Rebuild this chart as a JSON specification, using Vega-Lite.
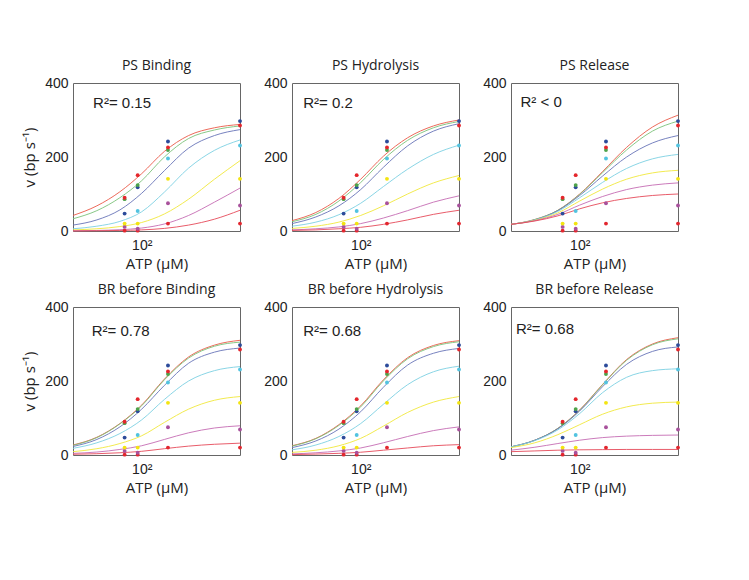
{
"$schema": "https://vega.github.io/schema/vega-lite/v6.json",
"padding": {"left": 22, "top": 58, "right": 5, "bottom": 5},
"background": "white",
"bounds": "flush",
"columns": 3,
"spacing": {"row": 76, "column": 52},
"datasets": {
"curves": [
{"p":1,"s":"r1","x":20,"y":42},{"p":1,"s":"r1","x":35,"y":68},{"p":1,"s":"r1","x":60,"y":106},{"p":1,"s":"r1","x":100,"y":155},{"p":1,"s":"r1","x":170,"y":215},{"p":1,"s":"r1","x":300,"y":258},{"p":1,"s":"r1","x":550,"y":279},{"p":1,"s":"r1","x":1000,"y":288},
{"p":1,"s":"g","x":20,"y":33},{"p":1,"s":"g","x":35,"y":55},{"p":1,"s":"g","x":60,"y":90},{"p":1,"s":"g","x":100,"y":136},{"p":1,"s":"g","x":170,"y":200},{"p":1,"s":"g","x":300,"y":250},{"p":1,"s":"g","x":550,"y":273},{"p":1,"s":"g","x":1000,"y":284},
{"p":1,"s":"b","x":20,"y":16},{"p":1,"s":"b","x":35,"y":30},{"p":1,"s":"b","x":60,"y":57},{"p":1,"s":"b","x":100,"y":102},{"p":1,"s":"b","x":170,"y":163},{"p":1,"s":"b","x":300,"y":224},{"p":1,"s":"b","x":550,"y":258},{"p":1,"s":"b","x":1000,"y":274},
{"p":1,"s":"c","x":20,"y":6},{"p":1,"s":"c","x":35,"y":13},{"p":1,"s":"c","x":60,"y":26},{"p":1,"s":"c","x":100,"y":52},{"p":1,"s":"c","x":170,"y":105},{"p":1,"s":"c","x":300,"y":170},{"p":1,"s":"c","x":550,"y":218},{"p":1,"s":"c","x":1000,"y":246},
{"p":1,"s":"y","x":20,"y":3},{"p":1,"s":"y","x":35,"y":6},{"p":1,"s":"y","x":60,"y":12},{"p":1,"s":"y","x":100,"y":23},{"p":1,"s":"y","x":170,"y":46},{"p":1,"s":"y","x":300,"y":86},{"p":1,"s":"y","x":550,"y":140},{"p":1,"s":"y","x":1000,"y":190},
{"p":1,"s":"m","x":20,"y":0.5},{"p":1,"s":"m","x":35,"y":1.5},{"p":1,"s":"m","x":60,"y":3.5},{"p":1,"s":"m","x":100,"y":8},{"p":1,"s":"m","x":170,"y":19},{"p":1,"s":"m","x":300,"y":42},{"p":1,"s":"m","x":550,"y":78},{"p":1,"s":"m","x":1000,"y":116},
{"p":1,"s":"r2","x":20,"y":0.2},{"p":1,"s":"r2","x":35,"y":0.6},{"p":1,"s":"r2","x":60,"y":1.5},{"p":1,"s":"r2","x":100,"y":3},{"p":1,"s":"r2","x":170,"y":7},{"p":1,"s":"r2","x":300,"y":16},{"p":1,"s":"r2","x":550,"y":32},{"p":1,"s":"r2","x":1000,"y":56},

{"p":2,"s":"r1","x":20,"y":28},{"p":2,"s":"r1","x":35,"y":50},{"p":2,"s":"r1","x":60,"y":88},{"p":2,"s":"r1","x":100,"y":140},{"p":2,"s":"r1","x":170,"y":202},{"p":2,"s":"r1","x":300,"y":252},{"p":2,"s":"r1","x":550,"y":284},{"p":2,"s":"r1","x":1000,"y":300},
{"p":2,"s":"g","x":20,"y":25},{"p":2,"s":"g","x":35,"y":45},{"p":2,"s":"g","x":60,"y":81},{"p":2,"s":"g","x":100,"y":131},{"p":2,"s":"g","x":170,"y":193},{"p":2,"s":"g","x":300,"y":245},{"p":2,"s":"g","x":550,"y":279},{"p":2,"s":"g","x":1000,"y":296},
{"p":2,"s":"b","x":20,"y":20},{"p":2,"s":"b","x":35,"y":38},{"p":2,"s":"b","x":60,"y":68},{"p":2,"s":"b","x":100,"y":112},{"p":2,"s":"b","x":170,"y":172},{"p":2,"s":"b","x":300,"y":230},{"p":2,"s":"b","x":550,"y":270},{"p":2,"s":"b","x":1000,"y":290},
{"p":2,"s":"c","x":20,"y":13},{"p":2,"s":"c","x":35,"y":24},{"p":2,"s":"c","x":60,"y":44},{"p":2,"s":"c","x":100,"y":75},{"p":2,"s":"c","x":170,"y":120},{"p":2,"s":"c","x":300,"y":167},{"p":2,"s":"c","x":550,"y":207},{"p":2,"s":"c","x":1000,"y":232},
{"p":2,"s":"y","x":20,"y":7},{"p":2,"s":"y","x":35,"y":13},{"p":2,"s":"y","x":60,"y":24},{"p":2,"s":"y","x":100,"y":42},{"p":2,"s":"y","x":170,"y":68},{"p":2,"s":"y","x":300,"y":100},{"p":2,"s":"y","x":550,"y":130},{"p":2,"s":"y","x":1000,"y":150},
{"p":2,"s":"m","x":20,"y":3},{"p":2,"s":"m","x":35,"y":6},{"p":2,"s":"m","x":60,"y":11},{"p":2,"s":"m","x":100,"y":20},{"p":2,"s":"m","x":170,"y":35},{"p":2,"s":"m","x":300,"y":55},{"p":2,"s":"m","x":550,"y":78},{"p":2,"s":"m","x":1000,"y":95},
{"p":2,"s":"r2","x":20,"y":1.5},{"p":2,"s":"r2","x":35,"y":3},{"p":2,"s":"r2","x":60,"y":6},{"p":2,"s":"r2","x":100,"y":10},{"p":2,"s":"r2","x":170,"y":18},{"p":2,"s":"r2","x":300,"y":30},{"p":2,"s":"r2","x":550,"y":45},{"p":2,"s":"r2","x":1000,"y":56},

{"p":3,"s":"r1","x":20,"y":18},{"p":3,"s":"r1","x":35,"y":31},{"p":3,"s":"r1","x":60,"y":56},{"p":3,"s":"r1","x":100,"y":100},{"p":3,"s":"r1","x":170,"y":160},{"p":3,"s":"r1","x":300,"y":226},{"p":3,"s":"r1","x":550,"y":281},{"p":3,"s":"r1","x":1000,"y":313},
{"p":3,"s":"g","x":20,"y":18},{"p":3,"s":"g","x":35,"y":31},{"p":3,"s":"g","x":60,"y":56},{"p":3,"s":"g","x":100,"y":99},{"p":3,"s":"g","x":170,"y":157},{"p":3,"s":"g","x":300,"y":219},{"p":3,"s":"g","x":550,"y":270},{"p":3,"s":"g","x":1000,"y":297},
{"p":3,"s":"b","x":20,"y":18},{"p":3,"s":"b","x":35,"y":30},{"p":3,"s":"b","x":60,"y":55},{"p":3,"s":"b","x":100,"y":96},{"p":3,"s":"b","x":170,"y":148},{"p":3,"s":"b","x":300,"y":200},{"p":3,"s":"b","x":550,"y":238},{"p":3,"s":"b","x":1000,"y":258},
{"p":3,"s":"c","x":20,"y":18},{"p":3,"s":"c","x":35,"y":30},{"p":3,"s":"c","x":60,"y":53},{"p":3,"s":"c","x":100,"y":90},{"p":3,"s":"c","x":170,"y":131},{"p":3,"s":"c","x":300,"y":169},{"p":3,"s":"c","x":550,"y":195},{"p":3,"s":"c","x":1000,"y":207},
{"p":3,"s":"y","x":20,"y":18},{"p":3,"s":"y","x":35,"y":29},{"p":3,"s":"y","x":60,"y":49},{"p":3,"s":"y","x":100,"y":81},{"p":3,"s":"y","x":170,"y":113},{"p":3,"s":"y","x":300,"y":140},{"p":3,"s":"y","x":550,"y":157},{"p":3,"s":"y","x":1000,"y":164},
{"p":3,"s":"m","x":20,"y":18},{"p":3,"s":"m","x":35,"y":28},{"p":3,"s":"m","x":60,"y":45},{"p":3,"s":"m","x":100,"y":70},{"p":3,"s":"m","x":170,"y":93},{"p":3,"s":"m","x":300,"y":112},{"p":3,"s":"m","x":550,"y":124},{"p":3,"s":"m","x":1000,"y":130},
{"p":3,"s":"r2","x":20,"y":18},{"p":3,"s":"r2","x":35,"y":27},{"p":3,"s":"r2","x":60,"y":41},{"p":3,"s":"r2","x":100,"y":60},{"p":3,"s":"r2","x":170,"y":76},{"p":3,"s":"r2","x":300,"y":88},{"p":3,"s":"r2","x":550,"y":96},{"p":3,"s":"r2","x":1000,"y":100},

{"p":4,"s":"r1","x":20,"y":27},{"p":4,"s":"r1","x":35,"y":48},{"p":4,"s":"r1","x":60,"y":85},{"p":4,"s":"r1","x":100,"y":135},{"p":4,"s":"r1","x":170,"y":205},{"p":4,"s":"r1","x":300,"y":265},{"p":4,"s":"r1","x":550,"y":297},{"p":4,"s":"r1","x":1000,"y":310},
{"p":4,"s":"g","x":20,"y":26},{"p":4,"s":"g","x":35,"y":47},{"p":4,"s":"g","x":60,"y":84},{"p":4,"s":"g","x":100,"y":133},{"p":4,"s":"g","x":170,"y":203},{"p":4,"s":"g","x":300,"y":262},{"p":4,"s":"g","x":550,"y":294},{"p":4,"s":"g","x":1000,"y":305},
{"p":4,"s":"b","x":20,"y":23},{"p":4,"s":"b","x":35,"y":42},{"p":4,"s":"b","x":60,"y":76},{"p":4,"s":"b","x":100,"y":124},{"p":4,"s":"b","x":170,"y":188},{"p":4,"s":"b","x":300,"y":248},{"p":4,"s":"b","x":550,"y":278},{"p":4,"s":"b","x":1000,"y":289},
{"p":4,"s":"c","x":20,"y":18},{"p":4,"s":"c","x":35,"y":33},{"p":4,"s":"c","x":60,"y":58},{"p":4,"s":"c","x":100,"y":95},{"p":4,"s":"c","x":170,"y":150},{"p":4,"s":"c","x":300,"y":200},{"p":4,"s":"c","x":550,"y":228},{"p":4,"s":"c","x":1000,"y":239},
{"p":4,"s":"y","x":20,"y":9},{"p":4,"s":"y","x":35,"y":17},{"p":4,"s":"y","x":60,"y":31},{"p":4,"s":"y","x":100,"y":52},{"p":4,"s":"y","x":170,"y":88},{"p":4,"s":"y","x":300,"y":124},{"p":4,"s":"y","x":550,"y":148},{"p":4,"s":"y","x":1000,"y":158},
{"p":4,"s":"m","x":20,"y":4.5},{"p":4,"s":"m","x":35,"y":8},{"p":4,"s":"m","x":60,"y":15},{"p":4,"s":"m","x":100,"y":25},{"p":4,"s":"m","x":170,"y":42},{"p":4,"s":"m","x":300,"y":60},{"p":4,"s":"m","x":550,"y":73},{"p":4,"s":"m","x":1000,"y":79},
{"p":4,"s":"r2","x":20,"y":2},{"p":4,"s":"r2","x":35,"y":3.5},{"p":4,"s":"r2","x":60,"y":6},{"p":4,"s":"r2","x":100,"y":10},{"p":4,"s":"r2","x":170,"y":17},{"p":4,"s":"r2","x":300,"y":24},{"p":4,"s":"r2","x":550,"y":29},{"p":4,"s":"r2","x":1000,"y":32},

{"p":5,"s":"r1","x":20,"y":25},{"p":5,"s":"r1","x":35,"y":45},{"p":5,"s":"r1","x":60,"y":82},{"p":5,"s":"r1","x":100,"y":133},{"p":5,"s":"r1","x":170,"y":203},{"p":5,"s":"r1","x":300,"y":263},{"p":5,"s":"r1","x":550,"y":296},{"p":5,"s":"r1","x":1000,"y":309},
{"p":5,"s":"g","x":20,"y":24},{"p":5,"s":"g","x":35,"y":44},{"p":5,"s":"g","x":60,"y":80},{"p":5,"s":"g","x":100,"y":130},{"p":5,"s":"g","x":170,"y":200},{"p":5,"s":"g","x":300,"y":260},{"p":5,"s":"g","x":550,"y":293},{"p":5,"s":"g","x":1000,"y":306},
{"p":5,"s":"b","x":20,"y":20},{"p":5,"s":"b","x":35,"y":38},{"p":5,"s":"b","x":60,"y":70},{"p":5,"s":"b","x":100,"y":117},{"p":5,"s":"b","x":170,"y":183},{"p":5,"s":"b","x":300,"y":243},{"p":5,"s":"b","x":550,"y":275},{"p":5,"s":"b","x":1000,"y":288},
{"p":5,"s":"c","x":20,"y":14},{"p":5,"s":"c","x":35,"y":27},{"p":5,"s":"c","x":60,"y":50},{"p":5,"s":"c","x":100,"y":85},{"p":5,"s":"c","x":170,"y":137},{"p":5,"s":"c","x":300,"y":190},{"p":5,"s":"c","x":550,"y":225},{"p":5,"s":"c","x":1000,"y":240},
{"p":5,"s":"y","x":20,"y":7},{"p":5,"s":"y","x":35,"y":13},{"p":5,"s":"y","x":60,"y":25},{"p":5,"s":"y","x":100,"y":45},{"p":5,"s":"y","x":170,"y":78},{"p":5,"s":"y","x":300,"y":115},{"p":5,"s":"y","x":550,"y":143},{"p":5,"s":"y","x":1000,"y":158},
{"p":5,"s":"m","x":20,"y":3},{"p":5,"s":"m","x":35,"y":6},{"p":5,"s":"m","x":60,"y":11},{"p":5,"s":"m","x":100,"y":19},{"p":5,"s":"m","x":170,"y":33},{"p":5,"s":"m","x":300,"y":50},{"p":5,"s":"m","x":550,"y":66},{"p":5,"s":"m","x":1000,"y":76},
{"p":5,"s":"r2","x":20,"y":1},{"p":5,"s":"r2","x":35,"y":2.5},{"p":5,"s":"r2","x":60,"y":4.5},{"p":5,"s":"r2","x":100,"y":7.5},{"p":5,"s":"r2","x":170,"y":13},{"p":5,"s":"r2","x":300,"y":19},{"p":5,"s":"r2","x":550,"y":25},{"p":5,"s":"r2","x":1000,"y":28},

{"p":6,"s":"r1","x":20,"y":22},{"p":6,"s":"r1","x":35,"y":40},{"p":6,"s":"r1","x":60,"y":72},{"p":6,"s":"r1","x":100,"y":122},{"p":6,"s":"r1","x":170,"y":190},{"p":6,"s":"r1","x":300,"y":258},{"p":6,"s":"r1","x":550,"y":300},{"p":6,"s":"r1","x":1000,"y":317},
{"p":6,"s":"g","x":20,"y":22},{"p":6,"s":"g","x":35,"y":40},{"p":6,"s":"g","x":60,"y":72},{"p":6,"s":"g","x":100,"y":121},{"p":6,"s":"g","x":170,"y":189},{"p":6,"s":"g","x":300,"y":256},{"p":6,"s":"g","x":550,"y":298},{"p":6,"s":"g","x":1000,"y":314},
{"p":6,"s":"b","x":20,"y":22},{"p":6,"s":"b","x":35,"y":40},{"p":6,"s":"b","x":60,"y":71},{"p":6,"s":"b","x":100,"y":119},{"p":6,"s":"b","x":170,"y":184},{"p":6,"s":"b","x":300,"y":245},{"p":6,"s":"b","x":550,"y":280},{"p":6,"s":"b","x":1000,"y":292},
{"p":6,"s":"c","x":20,"y":22},{"p":6,"s":"c","x":35,"y":39},{"p":6,"s":"c","x":60,"y":68},{"p":6,"s":"c","x":100,"y":112},{"p":6,"s":"c","x":170,"y":168},{"p":6,"s":"c","x":300,"y":210},{"p":6,"s":"c","x":550,"y":228},{"p":6,"s":"c","x":1000,"y":233},
{"p":6,"s":"y","x":20,"y":20},{"p":6,"s":"y","x":35,"y":33},{"p":6,"s":"y","x":60,"y":55},{"p":6,"s":"y","x":100,"y":82},{"p":6,"s":"y","x":170,"y":110},{"p":6,"s":"y","x":300,"y":130},{"p":6,"s":"y","x":550,"y":140},{"p":6,"s":"y","x":1000,"y":143},
{"p":6,"s":"m","x":20,"y":13},{"p":6,"s":"m","x":35,"y":21},{"p":6,"s":"m","x":60,"y":31},{"p":6,"s":"m","x":100,"y":40},{"p":6,"s":"m","x":170,"y":47},{"p":6,"s":"m","x":300,"y":51},{"p":6,"s":"m","x":550,"y":53},{"p":6,"s":"m","x":1000,"y":54},
{"p":6,"s":"r2","x":20,"y":9},{"p":6,"s":"r2","x":35,"y":11},{"p":6,"s":"r2","x":60,"y":13},{"p":6,"s":"r2","x":100,"y":14},{"p":6,"s":"r2","x":170,"y":14.5},{"p":6,"s":"r2","x":300,"y":15},{"p":6,"s":"r2","x":550,"y":15},{"p":6,"s":"r2","x":1000,"y":15}
],
"pts": [
{"s":"r2","x":67,"y":1},{"s":"r2","x":91,"y":1},{"s":"r2","x":185,"y":20},{"s":"r2","x":1000,"y":20},
{"s":"m","x":67,"y":11},{"s":"m","x":91,"y":6},{"s":"m","x":185,"y":75},{"s":"m","x":1000,"y":69},
{"s":"y","x":67,"y":20},{"s":"y","x":91,"y":20},{"s":"y","x":185,"y":141},{"s":"y","x":1000,"y":141},
{"s":"c","x":91,"y":54},{"s":"c","x":185,"y":196},{"s":"c","x":1000,"y":231},
{"s":"b","x":67,"y":47},{"s":"b","x":91,"y":118},{"s":"b","x":185,"y":242},{"s":"b","x":1000,"y":297},
{"s":"g","x":67,"y":86},{"s":"g","x":91,"y":124},{"s":"g","x":185,"y":219},
{"s":"r1","x":67,"y":90},{"s":"r1","x":91,"y":151},{"s":"r1","x":185,"y":226},{"s":"r1","x":1000,"y":285}
],
"labs": [
{"p":1,"t":"R²= 0.15"},{"p":2,"t":"R²= 0.2"},{"p":3,"t":"R²  < 0"},
{"p":4,"t":"R²= 0.78"},{"p":5,"t":"R²= 0.68"},{"p":6,"t":"R²= 0.68"}
]
},
"concat": [
{"title":"PS Binding","width":167,"height":148,"layer":[
 {"data":{"name":"curves"},"transform":[{"filter":"datum.p==1"}],"mark":{"type":"line","interpolate":"monotone","strokeWidth":1,"opacity":0.9},
  "encoding":{"x":{"field":"x","type":"quantitative","scale":{"type":"log","domain":[20,1000],"nice":false},"axis":{"values":[100],"labelExpr":"'10²'","title":"ATP (μM)"}},
   "y":{"field":"y","type":"quantitative","scale":{"domain":[0,400],"nice":false},"axis":{"values":[0,200,400],"title":"v (bp s⁻¹)"}},
   "stroke":{"field":"s","type":"nominal","scale":{"domain":["r1","g","b","c","y","m","r2"],"range":["#ea5a48","#7cc27a","#6874b8","#7dd0e2","#f1e83c","#c56db4","#e54a5a"]},"legend":null}}},
 {"data":{"name":"pts"},"mark":{"type":"circle","size":15,"opacity":1},
  "encoding":{"x":{"field":"x","type":"quantitative"},"y":{"field":"y","type":"quantitative"},
   "fill":{"field":"s","type":"nominal","scale":{"domain":["r1","g","b","c","y","m","r2"],"range":["#e4262c","#4ea34b","#2c4b9a","#52c3e0","#f3e411","#a8519c","#e2262e"]},"legend":null}}},
 {"data":{"name":"labs"},"transform":[{"filter":"datum.p==1"}],"mark":{"type":"text","align":"left","baseline":"middle","font":"Liberation Sans","fontSize":15,"color":"#222"},
  "encoding":{"x":{"datum":32},"y":{"datum":346},"text":{"field":"t"}}}
]},
{"title":"PS Hydrolysis","width":167,"height":148,"layer":[
 {"data":{"name":"curves"},"transform":[{"filter":"datum.p==2"}],"mark":{"type":"line","interpolate":"monotone","strokeWidth":1,"opacity":0.9},
  "encoding":{"x":{"field":"x","type":"quantitative","scale":{"type":"log","domain":[20,1000],"nice":false},"axis":{"values":[100],"labelExpr":"'10²'","title":"ATP (μM)"}},
   "y":{"field":"y","type":"quantitative","scale":{"domain":[0,400],"nice":false},"axis":{"values":[0,200,400],"title":null}},
   "stroke":{"field":"s","type":"nominal","scale":{"domain":["r1","g","b","c","y","m","r2"],"range":["#ea5a48","#7cc27a","#6874b8","#7dd0e2","#f1e83c","#c56db4","#e54a5a"]},"legend":null}}},
 {"data":{"name":"pts"},"mark":{"type":"circle","size":15,"opacity":1},
  "encoding":{"x":{"field":"x","type":"quantitative"},"y":{"field":"y","type":"quantitative"},
   "fill":{"field":"s","type":"nominal","scale":{"domain":["r1","g","b","c","y","m","r2"],"range":["#e4262c","#4ea34b","#2c4b9a","#52c3e0","#f3e411","#a8519c","#e2262e"]},"legend":null}}},
 {"data":{"name":"labs"},"transform":[{"filter":"datum.p==2"}],"mark":{"type":"text","align":"left","baseline":"middle","font":"Liberation Sans","fontSize":15,"color":"#222"},
  "encoding":{"x":{"datum":26},"y":{"datum":346},"text":{"field":"t"}}}
]},
{"title":"PS Release","width":167,"height":148,"layer":[
 {"data":{"name":"curves"},"transform":[{"filter":"datum.p==3"}],"mark":{"type":"line","interpolate":"monotone","strokeWidth":1,"opacity":0.9},
  "encoding":{"x":{"field":"x","type":"quantitative","scale":{"type":"log","domain":[20,1000],"nice":false},"axis":{"values":[100],"labelExpr":"'10²'","title":"ATP (μM)"}},
   "y":{"field":"y","type":"quantitative","scale":{"domain":[0,400],"nice":false},"axis":{"values":[0,200,400],"title":null}},
   "stroke":{"field":"s","type":"nominal","scale":{"domain":["r1","g","b","c","y","m","r2"],"range":["#ea5a48","#7cc27a","#6874b8","#7dd0e2","#f1e83c","#c56db4","#e54a5a"]},"legend":null}}},
 {"data":{"name":"pts"},"mark":{"type":"circle","size":15,"opacity":1},
  "encoding":{"x":{"field":"x","type":"quantitative"},"y":{"field":"y","type":"quantitative"},
   "fill":{"field":"s","type":"nominal","scale":{"domain":["r1","g","b","c","y","m","r2"],"range":["#e4262c","#4ea34b","#2c4b9a","#52c3e0","#f3e411","#a8519c","#e2262e"]},"legend":null}}},
 {"data":{"name":"labs"},"transform":[{"filter":"datum.p==3"}],"mark":{"type":"text","align":"left","baseline":"middle","font":"Liberation Sans","fontSize":15,"color":"#222"},
  "encoding":{"x":{"datum":25},"y":{"datum":350},"text":{"field":"t"}}}
]},
{"title":"BR before Binding","width":167,"height":148,"layer":[
 {"data":{"name":"curves"},"transform":[{"filter":"datum.p==4"}],"mark":{"type":"line","interpolate":"monotone","strokeWidth":1,"opacity":0.9},
  "encoding":{"x":{"field":"x","type":"quantitative","scale":{"type":"log","domain":[20,1000],"nice":false},"axis":{"values":[100],"labelExpr":"'10²'","title":"ATP (μM)"}},
   "y":{"field":"y","type":"quantitative","scale":{"domain":[0,400],"nice":false},"axis":{"values":[0,200,400],"title":"v (bp s⁻¹)"}},
   "stroke":{"field":"s","type":"nominal","scale":{"domain":["r1","g","b","c","y","m","r2"],"range":["#ea5a48","#7cc27a","#6874b8","#7dd0e2","#f1e83c","#c56db4","#e54a5a"]},"legend":null}}},
 {"data":{"name":"pts"},"mark":{"type":"circle","size":15,"opacity":1},
  "encoding":{"x":{"field":"x","type":"quantitative"},"y":{"field":"y","type":"quantitative"},
   "fill":{"field":"s","type":"nominal","scale":{"domain":["r1","g","b","c","y","m","r2"],"range":["#e4262c","#4ea34b","#2c4b9a","#52c3e0","#f3e411","#a8519c","#e2262e"]},"legend":null}}},
 {"data":{"name":"labs"},"transform":[{"filter":"datum.p==4"}],"mark":{"type":"text","align":"left","baseline":"middle","font":"Liberation Sans","fontSize":15,"color":"#222"},
  "encoding":{"x":{"datum":31},"y":{"datum":334},"text":{"field":"t"}}}
]},
{"title":"BR before Hydrolysis","width":167,"height":148,"layer":[
 {"data":{"name":"curves"},"transform":[{"filter":"datum.p==5"}],"mark":{"type":"line","interpolate":"monotone","strokeWidth":1,"opacity":0.9},
  "encoding":{"x":{"field":"x","type":"quantitative","scale":{"type":"log","domain":[20,1000],"nice":false},"axis":{"values":[100],"labelExpr":"'10²'","title":"ATP (μM)"}},
   "y":{"field":"y","type":"quantitative","scale":{"domain":[0,400],"nice":false},"axis":{"values":[0,200,400],"title":null}},
   "stroke":{"field":"s","type":"nominal","scale":{"domain":["r1","g","b","c","y","m","r2"],"range":["#ea5a48","#7cc27a","#6874b8","#7dd0e2","#f1e83c","#c56db4","#e54a5a"]},"legend":null}}},
 {"data":{"name":"pts"},"mark":{"type":"circle","size":15,"opacity":1},
  "encoding":{"x":{"field":"x","type":"quantitative"},"y":{"field":"y","type":"quantitative"},
   "fill":{"field":"s","type":"nominal","scale":{"domain":["r1","g","b","c","y","m","r2"],"range":["#e4262c","#4ea34b","#2c4b9a","#52c3e0","#f3e411","#a8519c","#e2262e"]},"legend":null}}},
 {"data":{"name":"labs"},"transform":[{"filter":"datum.p==5"}],"mark":{"type":"text","align":"left","baseline":"middle","font":"Liberation Sans","fontSize":15,"color":"#222"},
  "encoding":{"x":{"datum":26},"y":{"datum":334},"text":{"field":"t"}}}
]},
{"title":"BR before Release","width":167,"height":148,"layer":[
 {"data":{"name":"curves"},"transform":[{"filter":"datum.p==6"}],"mark":{"type":"line","interpolate":"monotone","strokeWidth":1,"opacity":0.9},
  "encoding":{"x":{"field":"x","type":"quantitative","scale":{"type":"log","domain":[20,1000],"nice":false},"axis":{"values":[100],"labelExpr":"'10²'","title":"ATP (μM)"}},
   "y":{"field":"y","type":"quantitative","scale":{"domain":[0,400],"nice":false},"axis":{"values":[0,200,400],"title":null}},
   "stroke":{"field":"s","type":"nominal","scale":{"domain":["r1","g","b","c","y","m","r2"],"range":["#ea5a48","#7cc27a","#6874b8","#7dd0e2","#f1e83c","#c56db4","#e54a5a"]},"legend":null}}},
 {"data":{"name":"pts"},"mark":{"type":"circle","size":15,"opacity":1},
  "encoding":{"x":{"field":"x","type":"quantitative"},"y":{"field":"y","type":"quantitative"},
   "fill":{"field":"s","type":"nominal","scale":{"domain":["r1","g","b","c","y","m","r2"],"range":["#e4262c","#4ea34b","#2c4b9a","#52c3e0","#f3e411","#a8519c","#e2262e"]},"legend":null}}},
 {"data":{"name":"labs"},"transform":[{"filter":"datum.p==6"}],"mark":{"type":"text","align":"left","baseline":"middle","font":"Liberation Sans","fontSize":15,"color":"#222"},
  "encoding":{"x":{"datum":22.5},"y":{"datum":340},"text":{"field":"t"}}}
]}
],
"config": {
 "view": {"stroke": "#666", "strokeWidth": 1},
 "axis": {"domain": false, "ticks": false, "grid": false, "labelFont": "Liberation Sans", "labelFontSize": 14, "labelColor": "#222", "titleFont": "Open Sans", "titleFontSize": 15, "titleFontWeight": "normal", "titleColor": "#222"},
 "axisX": {"labelPadding": 7, "titlePadding": 4},
 "axisY": {"labelPadding": 5, "titlePadding": 7},
 "title": {"font": "Open Sans", "fontSize": 14, "fontWeight": "normal", "color": "#222", "offset": 3}
}
}
